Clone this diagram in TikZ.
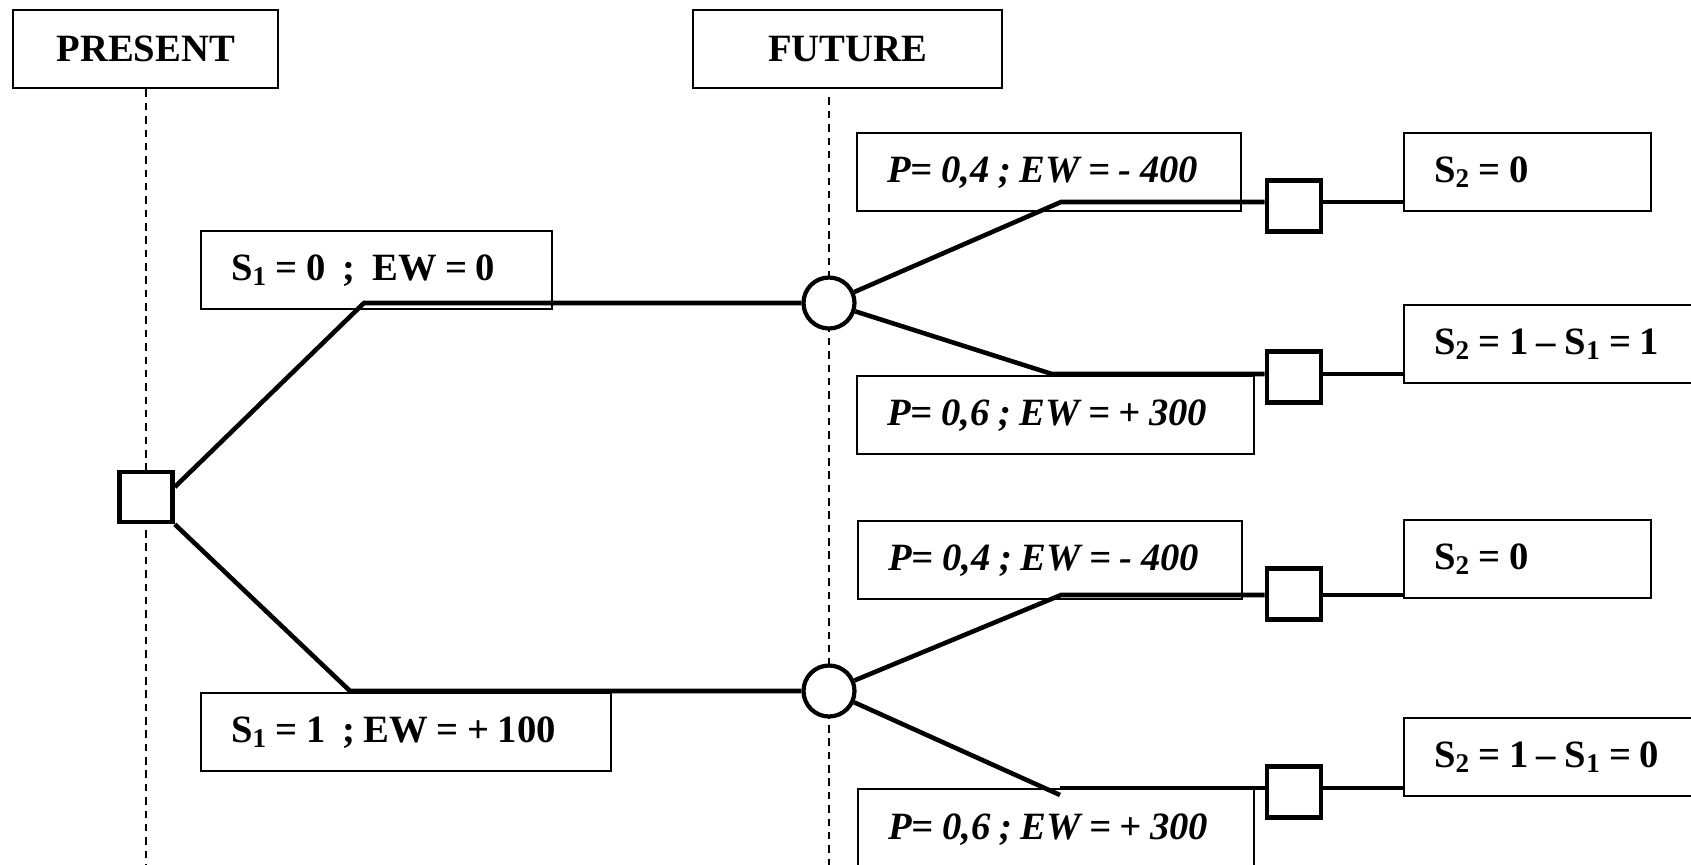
\documentclass[tikz,border=0pt]{standalone}
\usepackage{fontspec}
\setmainfont{Liberation Serif}
\usetikzlibrary{calc,backgrounds}
\newcommand{\gp}{\hspace{0.22em}}
\begin{document}
\begin{tikzpicture}[x=0.02cm,y=-0.02cm,
  box/.style={draw, line width=1.4pt, anchor=north west, inner xsep=0.6cm, inner ysep=0pt, minimum height=1.56cm, align=left, font=\bfseries\fontsize{22}{26}\selectfont},
  pbox/.style={box, font=\bfseries\itshape\fontsize{22}{26}\selectfont},
  head/.style={draw, line width=1.4pt, anchor=north west, minimum height=1.56cm, inner sep=0pt, font=\bfseries\fontsize{22}{26}\selectfont},
  decision/.style={draw, line width=2.6pt, fill=white, rectangle, inner sep=0pt, minimum width=1.08cm, minimum height=1.02cm},
  chance/.style={draw, line width=2.4pt, fill=white, circle, inner sep=0pt, minimum size=1.02cm},
  branch/.style={line width=2.6pt},
  timeline/.style={line width=1.1pt, dash pattern=on 4.3pt off 3.3pt},
]
\useasboundingbox (0,0) rectangle (1691,865);
\clip (0,0) rectangle (1691,865);

% headers
\node[head, minimum width=5.3cm] (present) at (12,9) {PRESENT};
\node[head, minimum width=6.18cm] (future) at (692,9) {FUTURE};

% first-stage boxes
\node[box, text width=5.82cm] (s10) at (200,230) {\mbox{S\textsubscript{1}\gp=\gp0\gp\gp;\gp\gp EW\gp=\gp0}};
\node[box, text width=7.0cm] (s11) at (200,692) {\mbox{S\textsubscript{1}\gp=\gp1\gp\gp;\gp EW\gp=\gp+\gp100}};

% chance outcome boxes
\node[pbox, text width=6.48cm] (p1a) at (856,132) {\mbox{P=\gp0,4\gp;\gp EW\gp=\gp-\gp400}};
\node[pbox, text width=6.74cm] (p1b) at (856,375) {\mbox{P=\gp0,6\gp;\gp EW\gp=\gp+\gp300}};
\node[pbox, text width=6.48cm] (p2a) at (857,520) {\mbox{P=\gp0,4\gp;\gp EW\gp=\gp-\gp400}};
\node[pbox, text width=6.72cm, minimum height=1.6cm] (p2b) at (857,788) {\mbox{P=\gp0,6\gp;\gp EW\gp=\gp+\gp300}};

% second-stage boxes
\node[box, text width=3.74cm] (s2a) at (1403,132) {\mbox{S\textsubscript{2}\gp=\gp0}};
\node[box, text width=5.4cm] (s2b) at (1403,304) {\mbox{S\textsubscript{2}\gp=\gp1\gp--\gp S\textsubscript{1}\gp=\gp1}};
\node[box, text width=3.74cm] (s2c) at (1403,519) {\mbox{S\textsubscript{2}\gp=\gp0}};
\node[box, text width=5.4cm] (s2d) at (1403,717) {\mbox{S\textsubscript{2}\gp=\gp1\gp--\gp S\textsubscript{1}\gp=\gp0}};

% decision and chance nodes
\node[decision, minimum width=1.06cm, minimum height=1.0cm] (d0) at (146,497) {};
\node[chance] (c1) at (829,303) {};
\node[chance] (c2) at (829,691) {};
\node[decision] (q1) at (1294,206) {};
\node[decision] (q2) at (1294,377) {};
\node[decision] (q3) at (1294,594) {};
\node[decision] (q4) at (1294,792) {};

% bend points
\coordinate (k0) at (364,303);
\coordinate (k1) at (350,691);
\coordinate (ka) at (1061,202);
\coordinate (kb) at (1052,374);
\coordinate (kc) at (1061,595);
\coordinate (kd) at (1060,788);
\coordinate (kd2) at (1060,795);
\coordinate (bottom) at (0,865);

% time lines
\begin{scope}[on background layer]
\draw[timeline] (d0 |- present.south) -- (d0 |- bottom);
\draw[timeline] ($(c1 |- future.south)+(0,8)$) -- (c1 |- bottom);
\end{scope}

% branches
\draw[branch] ($(d0.east)+(0,-10)$) -- (k0) -- (c1);
\draw[branch] (d0.south east) -- (k1) -- (c2);

\draw[branch] (c1) -- (ka) -- (ka -| q1.west);
\draw[branch] (ka -| q1.east) -- (ka -| s2a.west);
\draw[branch] (c1) -- (kb) -- (kb -| q2.west);
\draw[branch] (kb -| q2.east) -- (kb -| s2b.west);

\draw[branch] (c2) -- (kc) -- (kc -| q3.west);
\draw[branch] (kc -| q3.east) -- (kc -| s2c.west);
\draw[branch] (c2) -- (kd2);
\draw[branch] (kd) -- (kd -| q4.west);
\draw[branch] (kd -| q4.east) -- (kd -| s2d.west);
\end{tikzpicture}
\end{document}
